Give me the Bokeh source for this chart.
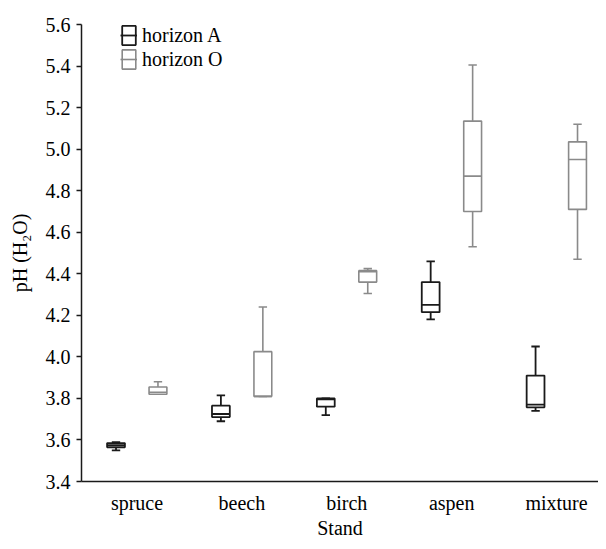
from bokeh.plotting import figure
from bokeh.models import (FixedTicker, NumeralTickFormatter, Legend, LegendItem,
                          ColumnDataSource, Range1d)
from bokeh.embed import file_html
from bokeh.resources import INLINE

stands = ["spruce", "beech", "birch", "aspen", "mixture"]

a_min = [3.55, 3.69, 3.72, 4.18, 3.74]
a_q1 = [3.565, 3.71, 3.76, 4.215, 3.757]
a_med = [3.575, 3.725, 3.795, 4.25, 3.77]
a_q3 = [3.585, 3.765, 3.80, 4.36, 3.91]
a_max = [3.59, 3.815, 3.80, 4.46, 4.05]

o_min = [3.82, 3.81, 4.305, 4.53, 4.47]
o_q1 = [3.82, 3.81, 4.36, 4.70, 4.71]
o_med = [3.83, 3.81, 4.41, 4.87, 4.95]
o_q3 = [3.855, 4.025, 4.415, 5.135, 5.035]
o_max = [3.88, 4.24, 4.425, 5.405, 5.12]

y_ticks = [3.4, 3.6, 3.8, 4.0, 4.2, 4.4, 4.6, 4.8, 5.0, 5.2, 5.4, 5.6]

FONT = "Liberation Serif"
FS = "20px"

pos = [i + 1 for i in range(len(stands))]

p = figure(width=598, height=541, x_range=Range1d(0.471, 5.4),
           y_range=Range1d(3.4, 5.6), output_backend="svg", toolbar_location=None,
           min_border_left=81, min_border_right=0, min_border_top=24, min_border_bottom=55)
p.outline_line_color = None
p.xgrid.grid_line_color = None
p.ygrid.grid_line_color = None

def draw(series, off, color, lw):
    mn, q1, md, q3, mx = series
    bw = 0.17
    cw = 0.08
    xc = [x + off for x in pos]
    src = ColumnDataSource(dict(
        xc=xc, xl=[x - bw / 2 for x in xc], xr=[x + bw / 2 for x in xc],
        cl=[x - cw / 2 for x in xc], cr=[x + cw / 2 for x in xc],
        mn=mn, q1=q1, md=md, q3=q3, mx=mx))
    p.segment(x0="xc", x1="xc", y0="q3", y1="mx", source=src, line_color=color, line_width=lw)
    p.segment(x0="xc", x1="xc", y0="q1", y1="mn", source=src, line_color=color, line_width=lw)
    p.segment(x0="cl", x1="cr", y0="mx", y1="mx", source=src, line_color=color, line_width=lw)
    p.segment(x0="cl", x1="cr", y0="mn", y1="mn", source=src, line_color=color, line_width=lw)
    box = p.vbar(x="xc", width=bw, top="q3", bottom="q1", source=src,
                 fill_color="white", line_color=color, line_width=lw)
    med = p.segment(x0="xl", x1="xr", y0="md", y1="md", source=src,
                    line_color=color, line_width=lw)
    return [box, med]

ra = draw((a_min, a_q1, a_med, a_q3, a_max), -0.2, "#1a1a1a", 1.8)
ro = draw((o_min, o_q1, o_med, o_q3, o_max), 0.2, "#8a8a8a", 1.6)

yax = p.yaxis[0]
yax.ticker = FixedTicker(ticks=y_ticks)
yax.formatter = NumeralTickFormatter(format="0.0")
yax.minor_tick_line_color = None
yax.major_tick_in = 0
yax.major_tick_out = 5
yax.major_tick_line_color = "#1a1a1a"
yax.major_tick_line_width = 1.5
yax.major_label_standoff = 6
yax.axis_label = "pH (H\u2082O)"
yax.axis_label_standoff = 12

xax = p.xaxis[0]
xax.ticker = FixedTicker(ticks=pos)
xax.major_label_overrides = {x: s for x, s in zip(pos, stands)}
xax.major_tick_line_color = None
xax.minor_tick_line_color = None
xax.major_label_standoff = 4
xax.axis_label = "Stand"
xax.axis_label_standoff = 0

for ax in (xax, yax):
    ax.axis_line_color = "#1a1a1a"
    ax.axis_line_width = 1.5
    ax.major_label_text_font = FONT
    ax.major_label_text_font_size = FS
    ax.major_label_text_color = "black"
    ax.major_label_text_line_height = 1.0
    ax.axis_label_text_font = FONT
    ax.axis_label_text_font_size = FS
    ax.axis_label_text_font_style = "normal"
    ax.axis_label_text_color = "black"
    ax.axis_label_text_line_height = 1.0

legend = Legend(items=[LegendItem(label="horizon A", renderers=ra),
                       LegendItem(label="horizon O", renderers=ro)],
                location=(39, 410), margin=0, padding=0, spacing=0,
                glyph_width=17, glyph_height=24, label_standoff=5,
                label_text_font=FONT, label_text_font_size=FS, label_text_color="black",
                border_line_color=None, background_fill_alpha=0)
p.add_layout(legend)

open("out.html", "w").write(file_html(p, INLINE))
